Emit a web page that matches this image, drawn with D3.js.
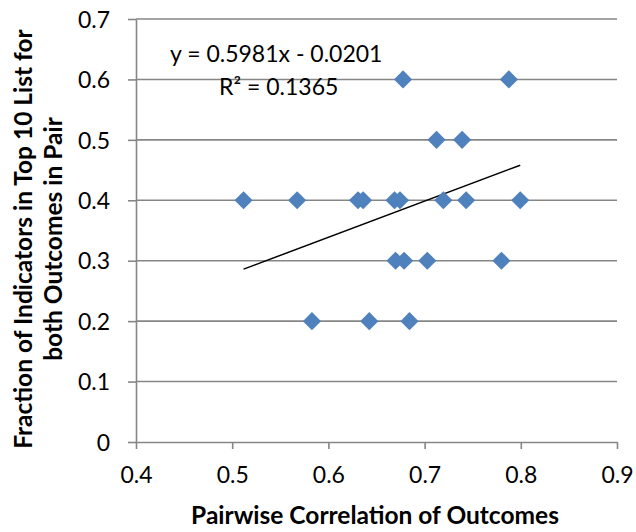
<!DOCTYPE html>
<html><head><meta charset="utf-8">
<script src="https://cdn.jsdelivr.net/npm/d3@7"></script>
<style>
html,body{margin:0;padding:0;background:#fff;}
text{font-family:Lato,"Open Sans",sans-serif;fill:#000;}
</style></head>
<body>
<svg id="chart" width="636" height="532"></svg>
<script>
// Data
const correlation = [0.5118,0.5675,0.6308,0.6361,0.6687,0.6744,0.7195,0.7432,0.7994,
  0.6698,0.6787,0.7028,0.7799,
  0.5829,0.6425,0.6843,
  0.7124,0.7390,
  0.6776,0.7876];
const fraction = [0.4,0.4,0.4,0.4,0.4,0.4,0.4,0.4,0.4,
  0.3,0.3,0.3,0.3,
  0.2,0.2,0.2,
  0.5,0.5,
  0.6,0.6];
const xTicks = [0.4,0.5,0.6,0.7,0.8,0.9];
const yTicks = [0,0.1,0.2,0.3,0.4,0.5,0.6,0.7];
const slope = 0.5981, intercept = -0.0201;
const eqLabel = "y = 0.5981x - 0.0201";
const r2Label = "R² = 0.1365";
const xTitle = "Pairwise Correlation of Outcomes";
const yTitle = ["Fraction of Indicators in Top 10 List for","both Outcomes in Pair"];

const svg = d3.select("#chart");
const x = d3.scaleLinear().domain([0.4,0.9]).range([136,617]);
const y = d3.scaleLinear().domain([0,0.7]).range([442,19]);
const gray = "#868686";

// gridlines
svg.append("g").selectAll("line").data(yTicks.filter(d=>d>0)).join("line")
  .attr("x1",x(0.4)).attr("x2",x(0.9)).attr("y1",d=>y(d)).attr("y2",d=>y(d))
  .attr("stroke",gray).attr("stroke-width",1.6);

// axes
const xAxis = svg.append("g").attr("transform",`translate(0,${y(0)})`)
  .call(d3.axisBottom(x).tickValues(xTicks).tickFormat(d3.format(".1f")).tickSize(7).tickSizeOuter(0));
const yAxis = svg.append("g").attr("transform",`translate(${x(0.4)},0)`)
  .call(d3.axisLeft(y).tickValues(yTicks).tickFormat(d=>d===0?"0":d3.format(".1f")(d)).tickSize(8).tickSizeOuter(0));
[xAxis,yAxis].forEach(a=>{
  a.select(".domain").attr("stroke",gray).attr("stroke-width",1.6);
  a.selectAll(".tick line").attr("stroke",gray).attr("stroke-width",1.6);
  a.selectAll(".tick text").attr("font-size",23).attr("font-family","Lato,sans-serif").attr("fill","#000");
});
xAxis.selectAll(".tick text").attr("y",41).attr("dy",0);
yAxis.selectAll(".tick text").attr("x",-26).attr("dy","0.36em");

// trendline
const xr = d3.extent(correlation);
svg.append("line")
  .attr("x1",x(xr[0])).attr("y1",y(slope*xr[0]+intercept))
  .attr("x2",x(xr[1])).attr("y2",y(slope*xr[1]+intercept))
  .attr("stroke","#000").attr("stroke-width",1.5);

// markers
const sym = d3.symbol().type(d3.symbolSquare).size(165);
svg.append("g").selectAll("path").data(correlation.map((c,i)=>[c,fraction[i]])).join("path")
  .attr("d",sym)
  .attr("transform",d=>`translate(${x(d[0])},${y(d[1])}) rotate(45)`)
  .attr("fill","#4F81BD");

// equation labels
svg.append("text").attr("x",170).attr("y",62).attr("font-size",23).text(eqLabel);
svg.append("text").attr("x",219).attr("y",95).attr("font-size",23).text(r2Label);

// axis titles
svg.append("text").attr("x",375).attr("y",524).attr("text-anchor","middle")
  .attr("font-size",24.5).attr("font-weight","bold").text(xTitle);
const yt = svg.append("text").attr("transform","translate(0,239) rotate(-90)")
  .attr("text-anchor","middle").attr("font-size",24.5).attr("font-weight","bold");
yt.append("tspan").attr("x",0).attr("y",32).text(yTitle[0]);
yt.append("tspan").attr("x",0).attr("y",62).text(yTitle[1]);
</script>
</body></html>
